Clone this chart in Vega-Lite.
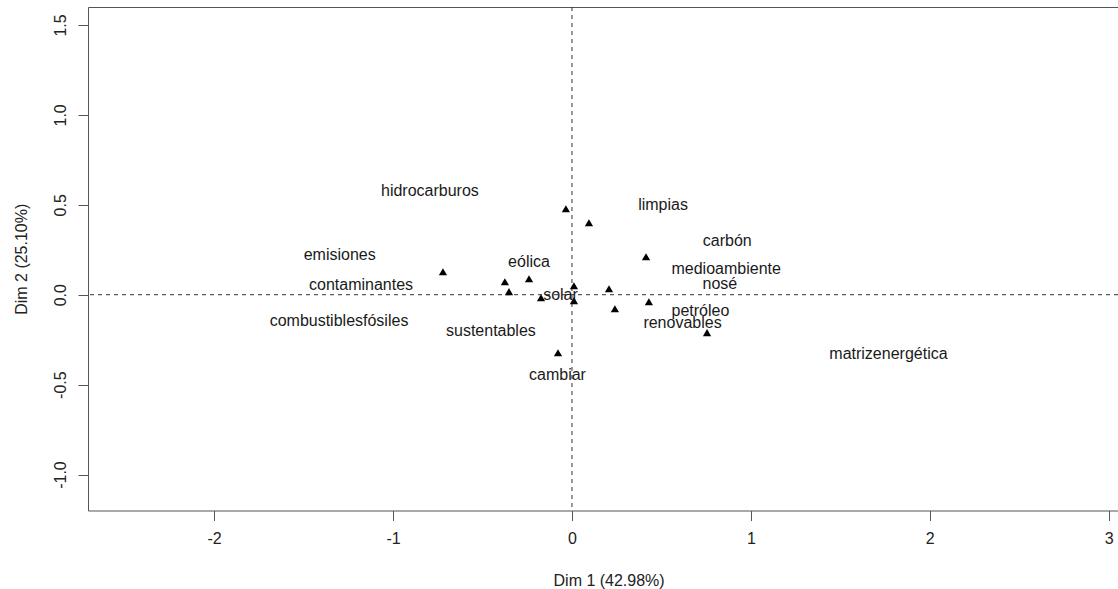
{
  "$schema": "https://vega.github.io/schema/vega-lite/v6.json",
  "autosize": {"type": "none"},
  "padding": {"left": 88, "top": 7, "right": 0, "bottom": 78.5},
  "width": 1030,
  "height": 503.5,
  "background": "white",
  "config": {
    "view": {"stroke": null},
    "font": "Liberation Sans",
    "axis": {
      "domain": true,
      "domainColor": "#555555",
      "domainWidth": 1,
      "grid": false,
      "tickColor": "#555555",
      "tickSize": 10,
      "tickWidth": 1,
      "labelFont": "Liberation Sans",
      "labelFontSize": 16,
      "labelColor": "#222222",
      "titleFont": "Liberation Sans",
      "titleFontSize": 16,
      "titleFontWeight": "normal",
      "titleColor": "#222222"
    }
  },
  "resolve": {"axis": {"x": "independent"}},
  "datasets": {
    "points": [
      {"x": -0.034, "y": 0.478},
      {"x": 0.095, "y": 0.400},
      {"x": -0.721, "y": 0.128},
      {"x": -0.375, "y": 0.072},
      {"x": -0.240, "y": 0.089},
      {"x": -0.352, "y": 0.017},
      {"x": -0.173, "y": -0.017},
      {"x": 0.011, "y": 0.050},
      {"x": 0.011, "y": -0.033},
      {"x": 0.207, "y": 0.033},
      {"x": 0.240, "y": -0.078},
      {"x": 0.414, "y": 0.211},
      {"x": 0.430, "y": -0.039},
      {"x": -0.078, "y": -0.323},
      {"x": 0.755, "y": -0.211}
    ],
    "labels": [
      {"x": -0.794, "y": 0.575, "label": "hidrocarburos"},
      {"x": -1.298, "y": 0.219, "label": "emisiones"},
      {"x": -0.240, "y": 0.180, "label": "eólica"},
      {"x": -1.179, "y": 0.052, "label": "contaminantes"},
      {"x": -0.064, "y": 0.000, "label": "solar"},
      {"x": -1.302, "y": -0.148, "label": "combustiblesfósiles"},
      {"x": -0.453, "y": -0.204, "label": "sustentables"},
      {"x": -0.081, "y": -0.449, "label": "cambiar"},
      {"x": 0.509, "y": 0.501, "label": "limpias"},
      {"x": 0.868, "y": 0.300, "label": "carbón"},
      {"x": 0.862, "y": 0.145, "label": "medioambiente"},
      {"x": 0.827, "y": 0.060, "label": "nosé"},
      {"x": 0.718, "y": -0.089, "label": "petróleo"},
      {"x": 0.618, "y": -0.157, "label": "renovables"},
      {"x": 1.769, "y": -0.328, "label": "matrizenergética"}
    ],
    "origin": [{"v": 0}]
  },
  "layer": [
    {
      "data": {"name": "origin"},
      "mark": {"type": "rule", "strokeDash": [4, 4], "color": "#333333", "strokeWidth": 1},
      "encoding": {
        "x": {"field": "v", "type": "quantitative", "scale": {"domain": [-2.705, 3.052], "nice": false, "zero": false},
          "axis": {"orient": "bottom", "values": [-2, -1, 0, 1, 2, 3], "labelExpr": "datum.value < 0 ? '-' + format(-datum.value, 'd') : format(datum.value, 'd')", "labelPadding": 10, "labelFlush": false, "title": "Dim 1 (42.98%)", "titleY": 70, "titleBaseline": "middle", "titleX": 520.6}}
      }
    },
    {
      "data": {"name": "origin"},
      "mark": {"type": "rule", "strokeDash": [4, 4], "color": "#333333", "strokeWidth": 1},
      "encoding": {
        "y": {"field": "v", "type": "quantitative", "scale": {"domain": [-1.2, 1.6], "nice": false, "zero": false},
          "axis": {"values": [-1, -0.5, 0, 0.5, 1, 1.5], "labelExpr": "datum.value < 0 ? '-' + format(-datum.value, '.1f') : format(datum.value, '.1f')", "labelAngle": -90, "labelAlign": "center", "labelBaseline": "middle", "labelPadding": 18, "labelFlush": false, "title": "Dim 2 (25.10%)", "titleX": -67, "titleBaseline": "middle", "titleAngle": -90}}
      }
    },
    {
      "data": {"name": "points"},
      "mark": {"type": "point", "shape": "triangle-up", "filled": true, "size": 68, "color": "#000000", "opacity": 1},
      "encoding": {
        "x": {"field": "x", "type": "quantitative", "axis": {"orient": "top", "ticks": false, "labels": false, "title": null, "domain": true}},
        "y": {"field": "y", "type": "quantitative"}
      }
    },
    {
      "data": {"name": "labels"},
      "mark": {"type": "text", "fontSize": 16, "font": "Liberation Sans", "color": "#1a1a1a", "align": "center", "baseline": "middle"},
      "encoding": {
        "x": {"field": "x", "type": "quantitative", "axis": null},
        "y": {"field": "y", "type": "quantitative"},
        "text": {"field": "label"}
      }
    }
  ]
}
